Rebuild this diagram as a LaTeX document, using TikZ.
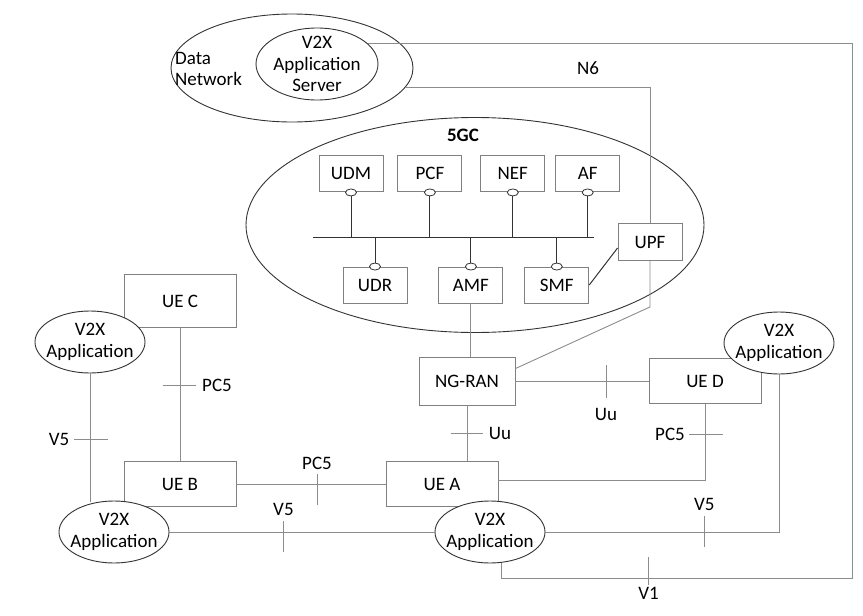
\documentclass[tikz,border=0pt]{standalone}
\usepackage{fontspec}
\setmainfont{Carlito}
\usetikzlibrary{positioning, shapes.geometric}
\definecolor{boxline}{HTML}{808080}
\definecolor{linkline}{HTML}{8C8C8C}
\definecolor{ovalline}{HTML}{333333}
\tikzset{
  base/.style={
    font=\fontsize{19}{21.5}\selectfont,
    align=center,
    inner sep=0pt,
  },
  nf/.style={base, draw=boxline, line width=0.9pt, minimum width=64pt, minimum height=36pt},
  ue/.style={base, draw=boxline, line width=0.9pt, minimum width=112pt, minimum height=45pt},
  oval/.style={ellipse, draw=ovalline, line width=0.9pt, inner sep=0pt},
  app/.style={oval, fill=white, minimum width=110pt, minimum height=62pt,
    label={[base]center:V2X\\Application}},
  sbi/.style={ellipse, draw=ovalline, fill=white, line width=0.8pt,
    minimum width=11pt, minimum height=7pt, inner sep=0pt},
  link/.style={draw=linkline, line width=0.9pt},
  bus/.style={draw=ovalline, line width=1.0pt},
  lbl/.style={base},
}

\begin{document}
\begin{tikzpicture}[x=1pt, y=-1pt]
\useasboundingbox (0,0) rectangle (863,616);

% Data network with the application server
\node[oval, minimum width=242pt, minimum height=108pt] (dn) at (292,68) {};
\node[lbl, align=left, anchor=west] (dnlbl) at (175,69) {Data\\Network};
\node[oval, minimum width=122pt, minimum height=72pt,
  label={[base]center:V2X\\Application\\Server}] (as) at (317,64) {};

% 5GC
\node[oval, minimum width=458pt, minimum height=215pt] (core) at (475,225) {};
\node[lbl, font=\fontsize{19}{21.5}\selectfont\bfseries] (corelbl) at (463,135) {5GC};

% Network functions, top row
\node[nf] (udm) at (351,173) {UDM};
\node[nf, right=14pt of udm] (pcf) {PCF};
\node[nf, right=18pt of pcf] (nef) {NEF};
\node[nf, right=10pt of nef] (af) {AF};
% bottom row
\node[nf] (udr) at (375,285) {UDR};
\node[nf, right=31pt of udr] (amf) {AMF};
\node[nf, right=21pt of amf] (smf) {SMF};
\node[nf, minimum height=37pt] (upf) at (650,242) {UPF};

% Service bus
\coordinate (busw) at (313,237);
\coordinate (buse) at (594,237);
\draw[bus] (busw) -- (buse);
\foreach \n in {udm, pcf, nef, af} {
  \node[sbi] (\n-s) at ([yshift=-1pt]\n.south) {};
  \draw[bus] (\n-s.south) -- (\n-s.south |- busw);
}
\foreach \n in {udr, amf, smf} {
  \node[sbi] (\n-s) at (\n.north) {};
  \draw[bus] (\n-s.north) -- (\n-s.north |- busw);
}
\draw[bus] (smf.east) -- ([yshift=-6pt]upf.west);

% RAN and UEs
\node[nf, minimum width=96pt, minimum height=48pt] (ngran) at (467,381) {NG-RAN};
\node[ue] (ued) at (705,381) {UE D};
\node[ue] (uea) at (442,484) {UE A};
\node[ue] (ueb) at (180,484) {UE B};
\node[ue, minimum height=53pt] (uec) at (180,301) {UE C};

% V2X applications
\node[app] (appc) at (90,342) {};
\node[app] (appb) at (114,532) {};
\node[app] (appa) at (490,532) {};
\node[app] (appd) at (779,343) {};

% --- Links ---------------------------------------------------------------
\coordinate (v1corner) at (852,578);
\draw[link] (as.22) -| (v1corner) -| coordinate[pos=0.29] (v1tick) (appa.-70);
\draw[link] (dn.-10) -| (upf.north);
\node[lbl] (n6lbl) at (588,68) {N6};

\draw[link] (upf.south) -- ([yshift=-46pt]upf.south) -- ([yshift=-12pt]ngran.north east);
\draw[link] (amf.south) -- (amf.south |- ngran.north);

\draw[link] (ngran.east) -- coordinate[pos=0.68] (uutick1) (ued.west);
\draw[link] (ngran.south) -- coordinate[pos=0.5] (uutick2) (ngran.south |- uea.north);
\draw[link] (ued.south) |- coordinate[pos=0.2] (pc5tick1) ([yshift=4pt]uea.east);
\draw[link] (ueb.east) -- coordinate[pos=0.54] (pc5tick2) (uea.west);
\draw[link] (uec.south) -- coordinate[pos=0.43] (pc5tick3) (ueb.north);

\draw[link] (appc.south) -- coordinate[pos=0.51] (v5tick1) (appc.south |- appb.120);
\draw[link] (appb.east) -- coordinate[pos=0.43] (v5tick2) (appa.west);
\draw[link] (appa.east) -| coordinate[pos=0.34] (v5tick3) (appd.south);

% Reference point ticks
\foreach \c/\u/\d in {uutick1/16/-17, pc5tick2/10/-21, v5tick2/11/-20, v5tick3/16/-15, v1tick/21/-7}
  {\draw[link] ([yshift=\u pt]\c) -- ([yshift=\d pt]\c);}
\foreach \c/\l/\r in {uutick2/16/16, pc5tick1/16/18, pc5tick3/17/16, v5tick1/16/18}
  {\draw[link] ([xshift=-\l pt]\c) -- ([xshift=\r pt]\c);}

% Reference point labels
\node[lbl] (uulbl1) at ([yshift=-33pt]uutick1) {Uu};
\node[lbl] (uulbl2) at ([xshift=33pt]uutick2) {Uu};
\node[lbl] (pc5lbl1) at ([xshift=-35pt]pc5tick1) {PC5};
\node[lbl] (pc5lbl2) at ([yshift=21pt]pc5tick2) {PC5};
\node[lbl] (pc5lbl3) at ([xshift=37pt]pc5tick3) {PC5};
\node[lbl] (v5lbl1) at ([xshift=-31pt]v5tick1) {V5};
\node[lbl] (v5lbl2) at ([yshift=23pt]v5tick2) {V5};
\node[lbl] (v5lbl3) at ([yshift=28pt]v5tick3) {V5};
\node[lbl] (v1lbl) at ([yshift=-15pt]v1tick) {V1};

\end{tikzpicture}
\end{document}
